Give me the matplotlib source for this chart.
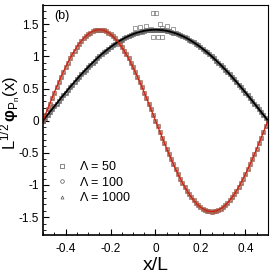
import numpy as np
import matplotlib
matplotlib.use("Agg")
import matplotlib.pyplot as plt
from matplotlib.ticker import MultipleLocator, FuncFormatter

plt.rcParams['font.family'] = ['Liberation Sans', 'DejaVu Sans']
plt.rcParams['mathtext.fontset'] = 'custom'
plt.rcParams['mathtext.rm'] = 'Liberation Sans'
plt.rcParams['mathtext.it'] = 'Liberation Sans:italic'
plt.rcParams['mathtext.bf'] = 'Liberation Sans:bold'
plt.rcParams['axes.unicode_minus'] = False

# Posiciones x/L de las muestras
x = [-0.50, -0.49, -0.48, -0.47, -0.46, -0.45, -0.44, -0.43, -0.42, -0.41,
     -0.40, -0.39, -0.38, -0.37, -0.36, -0.35, -0.34, -0.33, -0.32, -0.31,
     -0.30, -0.29, -0.28, -0.27, -0.26, -0.25, -0.24, -0.23, -0.22, -0.21,
     -0.20, -0.19, -0.18, -0.17, -0.16, -0.15, -0.14, -0.13, -0.12, -0.11,
     -0.10, -0.09, -0.08, -0.07, -0.06, -0.05, -0.04, -0.03, -0.02, -0.01,
     0.00, 0.01, 0.02, 0.03, 0.04, 0.05, 0.06, 0.07, 0.08, 0.09,
     0.10, 0.11, 0.12, 0.13, 0.14, 0.15, 0.16, 0.17, 0.18, 0.19,
     0.20, 0.21, 0.22, 0.23, 0.24, 0.25, 0.26, 0.27, 0.28, 0.29,
     0.30, 0.31, 0.32, 0.33, 0.34, 0.35, 0.36, 0.37, 0.38, 0.39,
     0.40, 0.41, 0.42, 0.43, 0.44, 0.45, 0.46, 0.47, 0.48, 0.49, 0.50]

# Estado fundamental (curva negra)
phi0 = [0.000, 0.044, 0.089, 0.133, 0.177, 0.221, 0.265, 0.308, 0.352, 0.395,
        0.437, 0.479, 0.521, 0.562, 0.602, 0.642, 0.681, 0.720, 0.758, 0.795,
        0.831, 0.867, 0.901, 0.935, 0.968, 1.000, 1.031, 1.061, 1.090, 1.117,
        1.144, 1.170, 1.194, 1.217, 1.239, 1.260, 1.280, 1.298, 1.315, 1.331,
        1.345, 1.358, 1.370, 1.380, 1.389, 1.397, 1.403, 1.408, 1.411, 1.413,
        1.414, 1.413, 1.411, 1.408, 1.403, 1.397, 1.389, 1.380, 1.370, 1.358,
        1.345, 1.331, 1.315, 1.298, 1.280, 1.260, 1.239, 1.217, 1.194, 1.170,
        1.144, 1.117, 1.090, 1.061, 1.031, 1.000, 0.968, 0.935, 0.901, 0.867,
        0.831, 0.795, 0.758, 0.720, 0.681, 0.642, 0.602, 0.562, 0.521, 0.479,
        0.437, 0.395, 0.352, 0.308, 0.265, 0.221, 0.177, 0.133, 0.089, 0.044, 0.000]

# Primer estado excitado (curva roja)
phi1 = [0.000, 0.089, 0.177, 0.265, 0.352, 0.437, 0.521, 0.602, 0.681, 0.758,
        0.831, 0.901, 0.968, 1.031, 1.090, 1.144, 1.194, 1.239, 1.280, 1.315,
        1.345, 1.370, 1.389, 1.403, 1.411, 1.414, 1.411, 1.403, 1.389, 1.370,
        1.345, 1.315, 1.280, 1.239, 1.194, 1.144, 1.090, 1.031, 0.968, 0.901,
        0.831, 0.758, 0.681, 0.602, 0.521, 0.437, 0.352, 0.265, 0.177, 0.089,
        0.000, -0.089, -0.177, -0.265, -0.352, -0.437, -0.521, -0.602, -0.681, -0.758,
        -0.831, -0.901, -0.968, -1.031, -1.090, -1.144, -1.194, -1.239, -1.280, -1.315,
        -1.345, -1.370, -1.389, -1.403, -1.411, -1.414, -1.411, -1.403, -1.389, -1.370,
        -1.345, -1.315, -1.280, -1.239, -1.194, -1.144, -1.090, -1.031, -0.968, -0.901,
        -0.831, -0.758, -0.681, -0.602, -0.521, -0.437, -0.352, -0.265, -0.177, -0.089, 0.000]

# Puntos dispersos de Lambda = 50 cerca del maximo
x50_pico = [-0.09, -0.07, -0.06, -0.04, -0.02, -0.013, -0.01, 0.004, 0.01, 0.02, 0.03, 0.03, 0.05, 0.06, 0.08]
y50_pico = [1.44, 1.46, 1.38, 1.48, 1.42, 1.67, 1.30, 1.67, 1.30, 1.50, 1.30, 1.44, 1.48, 1.40, 1.43]

etiquetas = [r'$\Lambda$ = 50', r'$\Lambda$ = 100', r'$\Lambda$ = 1000']

fig = plt.figure(figsize=(2.74, 2.74), dpi=100)
ax = fig.add_axes([0.157, 0.142, 0.821, 0.84])

# Marcadores de las tres simulaciones
for yy, c in ((phi0, '#666666'), (phi1, '#a06050')):
    ax.plot(x, yy, ls='none', marker='s', ms=2.2, mfc='none', mec=c, mew=0.5)
    ax.plot(x, yy, ls='none', marker='o', ms=2.2, mfc='none', mec=c, mew=0.5)
    ax.plot(x, yy, ls='none', marker='^', ms=1.8, mfc='none', mec=c, mew=0.5)
ax.plot(x50_pico, y50_pico, ls='none', marker='s', ms=2.6, mfc='none', mec='#777777', mew=0.5)

# Lineas teoricas
ax.plot(x, phi0, color='black', lw=1.3)
ax.plot(x, phi1, color='#d02010', lw=0.9)

# Leyenda (solo marcadores)
h1, = ax.plot([], [], ls='none', marker='s', ms=2.6, mfc='none', mec='#555555', mew=0.5)
h2, = ax.plot([], [], ls='none', marker='o', ms=2.6, mfc='none', mec='#555555', mew=0.5)
h3, = ax.plot([], [], ls='none', marker='^', ms=2.2, mfc='none', mec='#555555', mew=0.5)
ax.legend([h1, h2, h3], etiquetas, loc='lower left', bbox_to_anchor=(0.0, 0.085),
          frameon=False, fontsize=9, handlelength=1.2, handletextpad=0.8,
          labelspacing=0.2)

ax.set_xlim(-0.5, 0.5)
ax.set_ylim(-1.78, 1.8)
ax.set_xticks([-0.4, -0.2, 0, 0.2, 0.4])
ax.set_yticks([-1.5, -1, -0.5, 0, 0.5, 1, 1.5])
ax.xaxis.set_minor_locator(MultipleLocator(0.05))
ax.yaxis.set_minor_locator(MultipleLocator(0.1))
ax.xaxis.set_major_formatter(FuncFormatter(lambda v, p: f'{v:g}'))
ax.yaxis.set_major_formatter(FuncFormatter(lambda v, p: f'{v:g}'))
ax.tick_params(which='both', direction='in', top=False, right=False, labelsize=8.5)
ax.tick_params(axis='x', which='major', pad=6)
ax.tick_params(axis='y', which='major', pad=3)
ax.tick_params(which='major', length=4, width=0.8)
ax.tick_params(which='minor', length=2, width=0.6)
for s in ax.spines.values():
    s.set_linewidth(0.8)
ax.spines['left'].set_linewidth(1.2)
ax.spines['bottom'].set_linewidth(1.2)

ax.set_xlabel('x/L', fontsize=14, labelpad=1)
ax.set_ylabel(r'L$^{1/2}\,\boldsymbol{\varphi}_{\mathrm{P_n}}$(x)', fontsize=12)
ax.yaxis.set_label_coords(-0.088, 0.53)
ax.text(0.05, 0.95, '(b)', transform=ax.transAxes, fontsize=9, va='center', ha='left')

fig.savefig('out.png', dpi=100)
